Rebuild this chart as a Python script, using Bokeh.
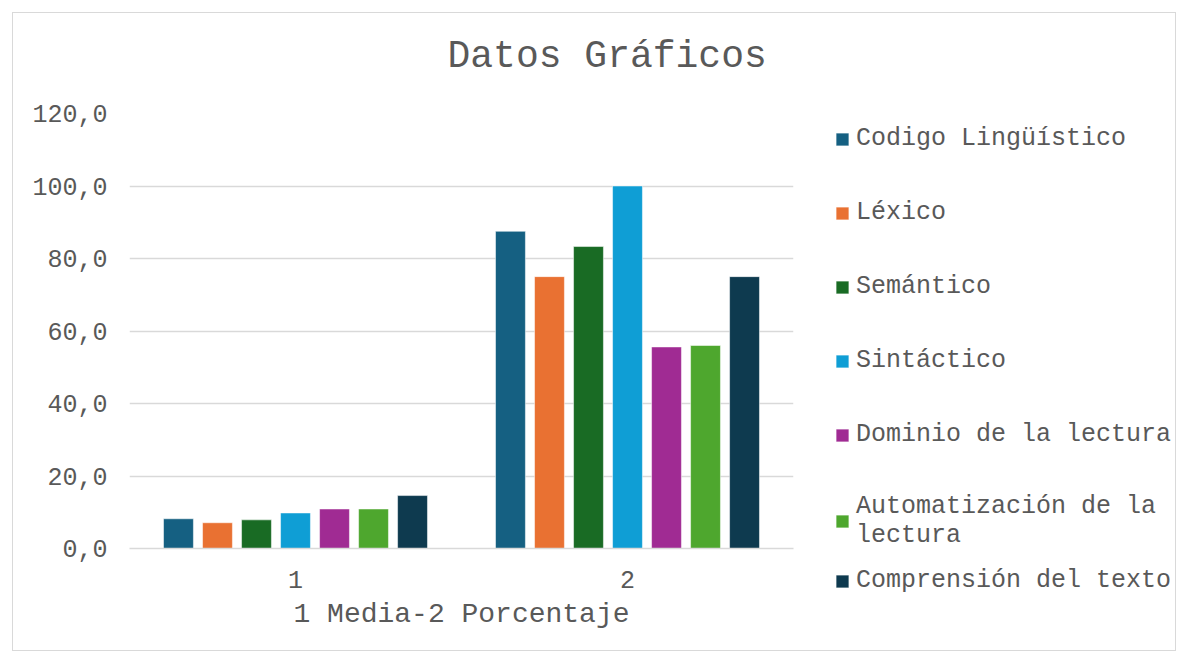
from bokeh.plotting import figure
from bokeh.layouts import row, column
from bokeh.models import (ColumnDataSource, FactorRange, Legend, LegendItem, Title,
                          FixedTicker, CustomJSTickFormatter)
from bokeh.transform import dodge
from bokeh.embed import file_html
from bokeh.resources import INLINE

groups = ["1", "2"]
series_labels = ["Codigo Lingüístico", "Léxico", "Semántico", "Sintáctico",
                 "Dominio de la lectura", "Automatización de la\nlectura",
                 "Comprensión del texto"]
codigo = [8.2, 87.5]
lexico = [7.1, 75.0]
semantico = [7.9, 83.3]
sintactico = [9.8, 100.0]
dominio = [10.9, 55.6]
automatizacion = [10.9, 56.0]
comprension = [14.6, 75.0]
y_ticks = [0, 20, 40, 60, 80, 100, 120]

colors = ["#156082", "#E97132", "#196B24", "#0F9ED5", "#A02B93", "#4EA72E", "#0E3A4F"]
keys = ["codigo", "lexico", "semantico", "sintactico", "dominio", "automatizacion", "comprension"]
values = [codigo, lexico, semantico, sintactico, dominio, automatizacion, comprension]

data = {"g": groups}
for k, v in zip(keys, values):
    data[k] = v
source = ColumnDataSource(data)

FONT = "Liberation Mono"
GREY = "#595959"

# ---- chart figure ----
p = figure(x_range=FactorRange(factors=groups, range_padding=0), y_range=(0, 120),
           width=788, height=637, output_backend="svg", toolbar_location=None,
           min_border_left=116, min_border_right=8, min_border_top=100, min_border_bottom=102)
p.outline_line_color = None

step = 0.1175
for i, (k, c) in enumerate(zip(keys, colors)):
    p.vbar(x=dodge("g", (i - 3) * step, range=p.x_range), top=k, width=0.09,
           source=source, fill_color=c, line_color="white", line_alpha=0.5, line_width=1)

p.title.text = "Datos Gráficos"
p.title.text_font = FONT
p.title.text_font_size = "38px"
p.title.text_font_style = "normal"
p.title.text_color = GREY
p.title.align = "left"
p.title.offset = 318
p.title.standoff = 0
# empty spacer between the title and the plot area
p.add_layout(Title(text=" ", text_font_size="10px", standoff=23), "above")

p.xgrid.grid_line_color = None
p.ygrid.grid_line_color = "#d9d9d9"
p.ygrid.grid_line_width = 1.5
p.yaxis.ticker = FixedTicker(ticks=y_ticks)
p.yaxis.formatter = CustomJSTickFormatter(code="return tick.toFixed(1).replace('.', ',');")
p.yaxis.axis_line_color = None
p.yaxis.major_tick_line_color = None
p.yaxis.minor_tick_line_color = None
p.yaxis.major_label_standoff = 16
p.yaxis.major_label_text_font = FONT
p.yaxis.major_label_text_font_size = "25px"
p.yaxis.major_label_text_color = GREY

p.xaxis.axis_label = "1 Media-2 Porcentaje"
p.xaxis.axis_label_text_font = FONT
p.xaxis.axis_label_text_font_size = "28px"
p.xaxis.axis_label_text_font_style = "normal"
p.xaxis.axis_label_text_color = GREY
p.xaxis.axis_label_standoff = 8
p.xaxis.axis_line_color = "#d9d9d9"
p.xaxis.axis_line_width = 1.5
p.xaxis.major_tick_line_color = None
p.xaxis.minor_tick_line_color = None
p.xaxis.major_label_standoff = 16
p.xaxis.major_label_text_font = FONT
p.xaxis.major_label_text_font_size = "25px"
p.xaxis.major_label_text_color = GREY

# ---- legend figure (hidden renderers carry the legend glyphs) ----
p2 = figure(x_range=FactorRange(factors=groups), y_range=(0, 120), width=374, height=637,
            output_backend="svg", toolbar_location=None,
            x_axis_location=None, y_axis_location=None,
            min_border_left=0, min_border_right=0, min_border_top=0, min_border_bottom=0)
p2.outline_line_color = None
p2.xgrid.grid_line_color = None
p2.ygrid.grid_line_color = None

legend_renderers = []
for k, c in zip(keys, colors):
    legend_renderers.append(p2.vbar(x="g", top=k, width=0.1, source=source, fill_color=c,
                                    line_color="white", line_alpha=0.5, line_width=1,
                                    visible=False))

common = dict(border_line_color=None, background_fill_alpha=0,
              label_text_font=FONT, label_text_font_size="25px", label_text_color=GREY,
              glyph_width=16, glyph_height=16, label_standoff=6, padding=0, margin=0,
              inactive_fill_alpha=0)

legend_a = Legend(items=[LegendItem(label=l, renderers=[r])
                         for l, r in zip(series_labels[:5], legend_renderers[:5])],
                  location=(33, 201), spacing=45, **common)
legend_b = Legend(items=[LegendItem(label=l, renderers=[r])
                         for l, r in zip(series_labels[5:], legend_renderers[5:])],
                  location=(33, 55), spacing=16, **common)
p2.add_layout(legend_a, "center")
p2.add_layout(legend_b, "center")

layout = row(p, column(p2), margin=(12, 0, 0, 12), styles={"border": "1px solid #d9d9d9"})

open("out.html", "w").write(file_html(layout, INLINE))
